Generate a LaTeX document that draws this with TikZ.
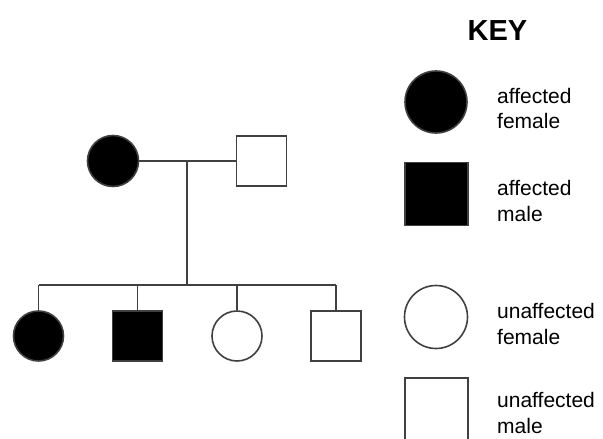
\documentclass[tikz,border=0pt]{standalone}
\usepackage{fontspec}
\setmainfont{Liberation Sans}
\begin{document}
\begin{tikzpicture}[x=1pt,y=-1pt,
  ln/.style={draw=black!75,line width=1.6pt},
  fem/.style={circle,draw=black!75,line width=1.6pt,inner sep=0pt,minimum size=#1},
  mal/.style={rectangle,draw=black!75,line width=1.6pt,inner sep=0pt,minimum size=#1},
  aff/.style={fill=black},
  lbl/.style={anchor=base west,align=left,inner sep=0pt,font=\fontsize{21}{25.5}\selectfont}]
\useasboundingbox (0,0) rectangle (603,439);
% pedigree
\node[fem=51,aff] (mother) at (113,161) {};
\node[mal=50] (father) at (261.5,161) {};
\coordinate (m) at (187,161);
\coordinate (s) at (187,285);
\node[fem=50,aff] (c1) at (38.5,336) {};
\node[mal=50,aff] (c2) at (137.5,336) {};
\node[fem=50] (c3) at (237,336) {};
\node[mal=50] (c4) at (336,336) {};
\coordinate (t1) at (38.5,285);
\coordinate (t2) at (137.5,285);
\coordinate (t3) at (237,285);
\coordinate (t4) at (336,285);
\draw[ln] (mother.east) -- (father.west);
\draw[ln] (m) -- (s);
\draw[ln] (t1) -- (t4);
\draw[ln] (t1) -- (c1.north);
\draw[ln] (t2) -- (c2.north);
\draw[ln] (t3) -- (c3.north);
\draw[ln] (t4) -- (c4.north);
% key
\node[font=\bfseries\fontsize{29}{30}\selectfont,anchor=base,inner sep=0pt] (key) at (497.5,40) {KEY};
\node[fem=62,aff] (k1) at (436,102) {};
\node[mal=63,aff] (k2) at (436.5,194) {};
\node[fem=63] (k3) at (436,317) {};
\node[mal=63] (k4) at (436.5,409.5) {};
\node[lbl] (l1) at (497,128.5) {affected\\female};
\node[lbl] (l2) at (497,221) {affected\\male};
\node[lbl] (l3) at (497,344) {unaffected\\female};
\node[lbl] (l4) at (497,433) {unaffected\\male};
\end{tikzpicture}
\end{document}
